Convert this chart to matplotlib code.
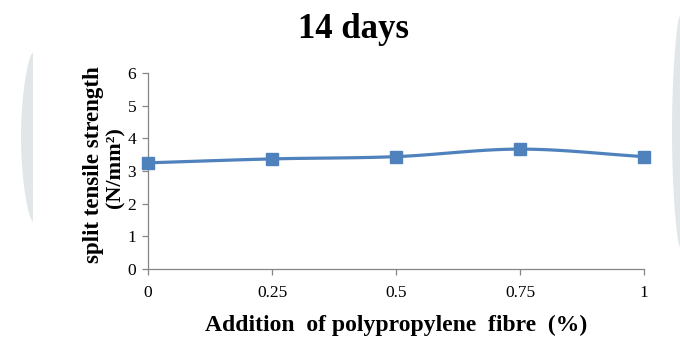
import numpy as np
import matplotlib
matplotlib.use("Agg")
import matplotlib.pyplot as plt
from matplotlib.patches import Polygon

fibre_pct = [0, 0.25, 0.5, 0.75, 1]
fibre_labels = ["0", "0.25", "0.5", "0.75", "1"]
strength = [3.25, 3.37, 3.44, 3.67, 3.44]
y_ticks = [0, 1, 2, 3, 4, 5, 6]

plt.rcParams["font.family"] = ["Liberation Serif", "DejaVu Serif"]


def catmull_rom(x, y, n=30):
    x = np.asarray(x, float)
    y = np.asarray(y, float)
    px = np.concatenate([[2 * x[0] - x[1]], x, [2 * x[-1] - x[-2]]])
    py = np.concatenate([[2 * y[0] - y[1]], y, [2 * y[-1] - y[-2]]])
    xs, ys = [], []
    for i in range(1, len(px) - 2):
        t = np.linspace(0, 1, n)
        for p, out in ((px, xs), (py, ys)):
            p0, p1, p2, p3 = p[i - 1], p[i], p[i + 1], p[i + 2]
            out.extend(0.5 * ((2 * p1) + (-p0 + p2) * t
                              + (2 * p0 - 5 * p1 + 4 * p2 - p3) * t ** 2
                              + (-p0 + 3 * p1 - 3 * p2 + p3) * t ** 3))
    return np.array(xs), np.array(ys)


W, H = 680, 340
fig = plt.figure(figsize=(W / 100, H / 100), dpi=100)
fig.patch.set_facecolor("white")

# soft grey page edges (half-lens shapes), in pixel coordinates
def lens(x_flat, x_bulge, y0, y1, n=40):
    t = np.linspace(0, 1, n)
    yy = y0 + (y1 - y0) * t
    xx = x_flat + (x_bulge - x_flat) * np.sin(np.pi * t) ** 0.6
    pts = np.column_stack([np.r_[xx, x_flat], np.r_[yy, y0]])
    pts[:, 0] /= W
    pts[:, 1] = 1 - pts[:, 1] / H
    return pts

fig.patches.append(Polygon(lens(33, 21, 52, 222), closed=True,
                           transform=fig.transFigure, facecolor="#e1e6e9",
                           edgecolor="none", zorder=0))
fig.patches.append(Polygon(lens(680, 672, 15, 248), closed=True,
                           transform=fig.transFigure, facecolor="#e1e6e9",
                           edgecolor="none", zorder=0))

ax = fig.add_axes([148 / W, 1 - 269 / H, (644 - 148) / W, (269 - 73) / H])
ax.set_facecolor("none")

sx, sy = catmull_rom(fibre_pct, strength)
ax.plot(sx, sy, color="#4F81BD", linewidth=2.3, solid_capstyle="round",
        zorder=3, clip_on=False)
ax.plot(fibre_pct, strength, linestyle="none", marker="s", markersize=8,
        color="#4F81BD", zorder=4, clip_on=False)

ax.set_xlim(0, 1)
ax.set_ylim(0, 6)
ax.set_xticks(fibre_pct)
ax.set_xticklabels(fibre_labels)
ax.set_yticks(y_ticks)

for side in ("top", "right"):
    ax.spines[side].set_visible(False)
for side in ("left", "bottom"):
    ax.spines[side].set_color("#868686")
    ax.spines[side].set_linewidth(0.9)
ax.tick_params(axis="both", colors="#868686", length=4.5, width=0.9,
               labelsize=12.5, labelcolor="black")
ax.tick_params(axis="x", pad=7)
ax.tick_params(axis="y", pad=4)

fig.text(353 / W, 1 - 29 / H, "14 days", ha="center", va="center",
         fontsize=25, fontweight="bold")
fig.text(396 / W, 1 - 325 / H, "Addition  of polypropylene  fibre  (%)",
         ha="center", va="center", fontsize=17, fontweight="bold")
fig.text(93 / W, 1 - 165 / H, "split tensile strength", ha="center",
         va="center", rotation=90, fontsize=16.5, fontweight="bold")
fig.text(115 / W, 1 - 168 / H, "(N/mm²)", ha="center",
         va="center", rotation=90, fontsize=16, fontweight="bold")

fig.savefig("out.png", dpi=100, facecolor="white")
